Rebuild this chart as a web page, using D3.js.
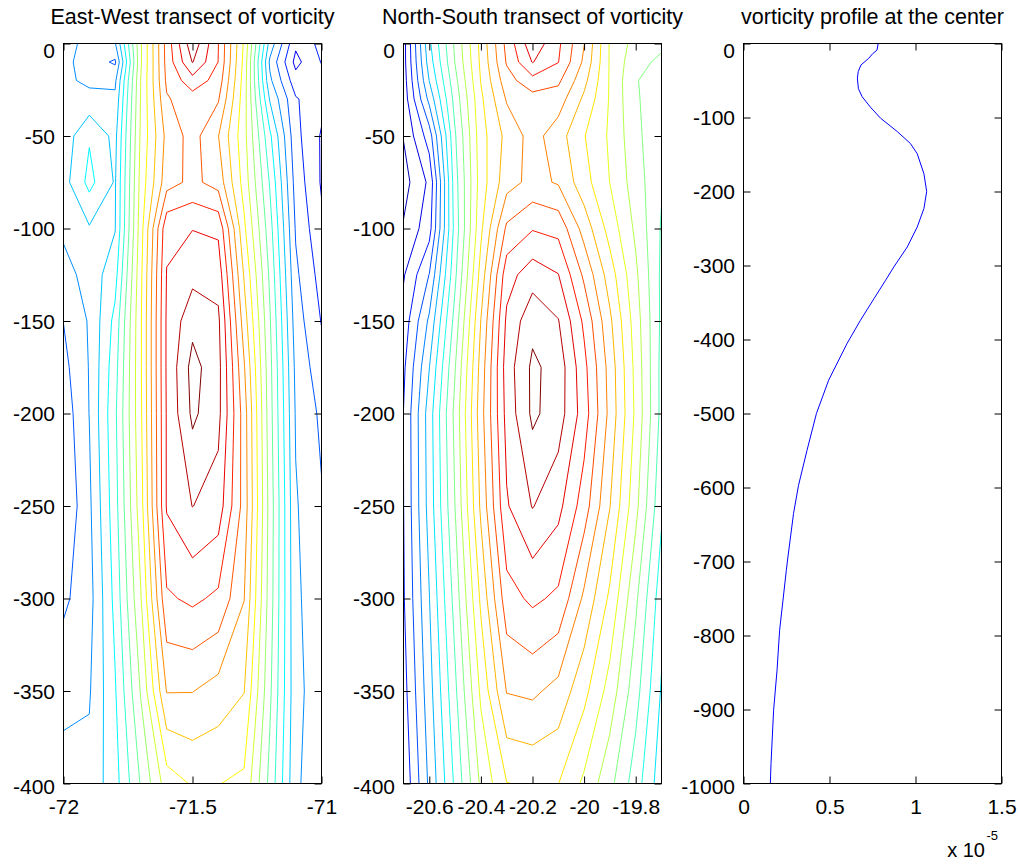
<!DOCTYPE html>
<html>
<head>
<meta charset="utf-8">
<script src="https://cdn.jsdelivr.net/npm/d3@7"></script>
<style>
body { margin: 0; background: #fff; }
text { font-family: "Liberation Sans", Arial, Helvetica, sans-serif; fill: #000; }
</style>
</head>
<body>
<div id="chart"></div>
<script>
// ---- East-West transect: vorticity (contour level units), rows = depth, columns = longitude
const ewLon = [-72, -71.9, -71.8, -71.7, -71.6, -71.5, -71.4, -71.3, -71.2, -71.1, -71];
const ewDepth = [0, -10, -20, -30, -50, -75, -100, -125, -150, -175, -200, -250, -300, -350, -400];
const ewVort = [
  [6.3, 5.75, 5.9, 11.9, 16.4, 19.7, 17.02, 12.85, 6.6, 3.2, 4.3],
  [6.3, 5.5, 4.85, 11.9, 16.35, 19.05, 16.98, 12.7, 5.8, 2.7, 4.05],
  [6.2, 5.8, 5.8, 12.05, 16.2, 17.6, 16.6, 12.55, 6.2, 3.4, 3.6],
  [6.2, 6.3, 6.2, 12.1, 15.9, 16.55, 16.1, 12.45, 6.9, 4.1, 3.3],
  [6.4, 7.9, 6.7, 12.2, 15.3, 16.4, 15.03, 12.35, 8.2, 4.3, 2.9],
  [6.6, 8.3, 6.9, 12.4, 15.6, 16.25, 15.6, 12.6, 8.9, 4.6, 2.9],
  [6.2, 6.9, 6.95, 12.6, 17.75, 17.97, 17.8, 13.2, 9.4, 4.9, 3.2],
  [5.6, 6.4, 7.6, 12.8, 18.05, 18.69, 18.6, 13.9, 9.8, 5.2, 3.6],
  [5.02, 6.1, 8.3, 12.9, 18.15, 19.7, 19.2, 14.5, 10.1, 5.5, 3.95],
  [4.7, 6.05, 8.6, 12.9, 18.15, 20.35, 19.35, 15.1, 10.3, 5.75, 4.4],
  [4.4, 6.02, 8.8, 12.85, 18.1, 20.2, 19.3, 15.5, 10.4, 5.9, 4.8],
  [4.1, 5.8, 8.6, 12.6, 18.1, 19.02, 18.55, 15.6, 10.6, 6.1, 5.1],
  [4.8, 5.6, 8.3, 11.95, 16.85, 17.2, 16.8, 15.03, 10.5, 6.2, 5.3],
  [5.7, 5.9, 7.9, 11.1, 15.05, 15.03, 14.6, 14.03, 10.2, 6.3, 5.4],
  [6.4, 6.3, 7.6, 10.1, 12.5, 13.1, 13.03, 12.8, 9.7, 6.2, 5.2]
];
const ewLevels = d3.range(1, 21);
const ewTicks = [-72, -71.5, -71];

// ---- North-South transect: rows = depth, columns = latitude
const nsLat = [-20.7, -20.6, -20.5, -20.4, -20.3, -20.2, -20.1, -20, -19.9, -19.8, -19.7];
const nsDepth = [0, -10, -20, -30, -50, -75, -100, -125, -150, -175, -200, -250, -300, -350, -400];
const nsVort = [
  [2.6, 7.8, 11.2, 14.3, 17.3, 19.7, 18.2, 16.03, 12.9, 11.6, 11.2],
  [2.6, 7.5, 11.05, 14.2, 17.1, 19.05, 18.03, 15.8, 12.9, 11.3, 10.8],
  [2.5, 7.03, 10.7, 14.05, 16.6, 17.65, 17.2, 15.3, 12.9, 11.05, 10.6],
  [2.4, 6.3, 10.4, 13.8, 16.1, 16.6, 16.5, 14.8, 12.9, 11.1, 10.5],
  [2.05, 4.5, 9.9, 13.6, 15.3, 16.4, 15.45, 14.05, 12.85, 11.3, 10.1],
  [1.6, 3.2, 9.6, 13.5, 15.6, 16.3, 15.9, 14.4, 12.98, 11.5, 10.1],
  [2.1, 3.6, 9.4, 13.8, 17.2, 17.93, 17.7, 15.6, 13.6, 11.8, 9.9],
  [2.9, 5.03, 9.8, 14.4, 18.6, 19.55, 19.03, 16.8, 14.5, 12.2, 9.8],
  [3.4, 6.2, 10.4, 15.03, 19.2, 20.7, 20.05, 17.8, 15.2, 12.5, 9.8],
  [3.8, 6.98, 10.95, 15.4, 19.5, 21.2, 20.6, 18.3, 15.6, 12.7, 9.7],
  [4.02, 7.5, 11.3, 15.6, 19.35, 21.2, 20.5, 18.5, 15.7, 12.8, 9.7],
  [3.98, 7.4, 11.02, 15.2, 18.9, 20.05, 19.3, 17.5, 15.03, 12.3, 9.2],
  [3.9, 6.97, 10.4, 14.2, 17.6, 18.2, 17.8, 15.8, 13.8, 11.2, 8.4],
  [3.6, 6.6, 9.8, 13.2, 16.05, 16.2, 15.67, 14.3, 12.6, 10.4, 7.9],
  [3.2, 6.2, 9.2, 12.2, 13.97, 14.15, 14.02, 12.8, 11.3, 9.5, 7.4]
];
const nsLevels = d3.range(1, 22);
const nsTicks = [-20.6, -20.4, -20.2, -20, -19.8];

// ---- vorticity profile at the center (x 1e-5)
const profDepth = [0, -9, -14, -20, -29, -38, -47, -61, -72, -86, -101, -119, -135, -149, -176, -200,
  -223, -248, -275, -302, -320, -345, -374, -405, -455, -500, -550, -597, -635, -698, -712, -793,
  -847, -901, -973, -1000];
const profVort = [0.783, 0.776, 0.75, 0.728, 0.683, 0.667, 0.662, 0.668, 0.69, 0.738, 0.797, 0.894,
  0.97, 1.01, 1.049, 1.065, 1.049, 1.01, 0.952, 0.874, 0.826, 0.758, 0.68, 0.603, 0.495, 0.424,
  0.369, 0.32, 0.291, 0.256, 0.249, 0.21, 0.195, 0.175, 0.16, 0.156];
const profXTicks = [0, 0.5, 1, 1.5];
const profYTicks = d3.range(0, -1001, -100);
const transectYTicks = d3.range(0, -401, -50);

const W = 258, H = 740, plotTop = 43.5;

const svg = d3.select("#chart").append("svg")
    .attr("width", 1018)
    .attr("height", 864);

// matlab jet colormap
function jet(t) {
    const c = v => Math.max(0, Math.min(1, v)) * 255;
    const r = c(Math.min(4 * t - 1.5, -4 * t + 4.5));
    const g = c(Math.min(4 * t - 0.5, -4 * t + 3.5));
    const b = c(Math.min(4 * t + 0.5, -4 * t + 2.5));
    return d3.rgb(r, g, b).toString();
}

function yLabelOffset(d, last) {
    if (d === 0) return 13.5;
    if (d === last) return 9.5;
    return 7;
}

function frame(g, x, y, xTicks, yTicks, xFmt) {
    const yLast = yTicks[yTicks.length - 1];

    const left = g.append("g")
        .call(d3.axisLeft(y).tickValues(yTicks).tickSize(-7).tickSizeOuter(0).tickPadding(8.5)
            .tickFormat(d => String(d)));
    left.select(".domain").remove();
    left.selectAll("text").attr("dy", null).attr("y", d => yLabelOffset(d, yLast));

    const right = g.append("g").attr("transform", "translate(" + W + ",0)")
        .call(d3.axisRight(y).tickValues(yTicks).tickSize(-7).tickSizeOuter(0).tickFormat(""));
    right.select(".domain").remove();

    const bottom = g.append("g").attr("transform", "translate(0," + H + ")")
        .call(d3.axisBottom(x).tickValues(xTicks).tickSize(-7).tickSizeOuter(0).tickFormat(xFmt));
    bottom.select(".domain").remove();
    bottom.selectAll("text").attr("dy", null).attr("y", 30.5);

    const topAx = g.append("g")
        .call(d3.axisTop(x).tickValues(xTicks).tickSize(-7).tickSizeOuter(0).tickFormat(""));
    topAx.select(".domain").remove();

    g.selectAll(".tick line").attr("stroke", "#000");
    g.selectAll(".tick text")
        .attr("font-size", 21)
        .attr("font-family", "Liberation Sans, Arial, sans-serif");

    g.append("rect")
        .attr("width", W)
        .attr("height", H)
        .attr("fill", "none")
        .attr("stroke", "#000")
        .attr("stroke-width", 1);
}

function contourPanel(left, id, title, cols, depths, grid, levels, xTicks) {
    const g = svg.append("g").attr("transform", "translate(" + left + "," + plotTop + ")");
    const x = d3.scaleLinear().domain([cols[0], cols[cols.length - 1]]).range([0, W]);
    const y = d3.scaleLinear().domain([-400, 0]).range([H, 0]);

    // grid index space -> pixels (value i sits at i + 0.5 in d3.contours output)
    const gx = d3.scaleLinear().domain(cols.map((d, i) => i + 0.5)).range(cols.map(x));
    const gy = d3.scaleLinear().domain(depths.map((d, i) => i + 0.5)).range(depths.map(y));

    const contours = d3.contours()
        .size([cols.length, depths.length])
        .thresholds(levels)(grid.flat());

    const path = d3.geoPath(d3.geoTransform({
        point(px, py) { this.stream.point(gx(px), gy(py)); }
    }));

    g.append("clipPath").attr("id", id)
        .append("rect").attr("width", W).attr("height", H);

    const lo = levels[0], hi = levels[levels.length - 1];
    g.append("g")
        .attr("clip-path", "url(#" + id + ")")
        .selectAll("path")
        .data(contours)
        .enter().append("path")
        .attr("d", path)
        .attr("fill", "none")
        .attr("stroke", d => jet((d.value - lo) / (hi - lo)))
        .attr("stroke-width", 1);

    frame(g, x, y, xTicks, transectYTicks, d => String(d));

    svg.append("text")
        .attr("x", left + W / 2)
        .attr("y", 24)
        .attr("text-anchor", "middle")
        .style("font-size", "21.5px")
        .text(title);
}

contourPanel(63.5, "clipEW", "East-West transect of vorticity", ewLon, ewDepth, ewVort, ewLevels, ewTicks);
contourPanel(403.5, "clipNS", "North-South transect of vorticity", nsLat, nsDepth, nsVort, nsLevels, nsTicks);

// ---- profile panel
const g3 = svg.append("g").attr("transform", "translate(743.5," + plotTop + ")");
const x3 = d3.scaleLinear().domain([0, 1.5]).range([0, W]);
const y3 = d3.scaleLinear().domain([-1000, 0]).range([H, 0]);

const line = d3.line()
    .x((d, i) => x3(profVort[i]))
    .y(d => y3(d));

g3.append("path")
    .datum(profDepth)
    .attr("d", line)
    .attr("fill", "none")
    .attr("stroke", "#0000ff")
    .attr("stroke-width", 1);

frame(g3, x3, y3, profXTicks, profYTicks, d => String(d));

svg.append("text")
    .attr("x", 743.5 + W / 2)
    .attr("y", 24)
    .attr("text-anchor", "middle")
    .style("font-size", "21.5px")
    .text("vorticity profile at the center");

// exponent label under the x axis
svg.append("text")
    .attr("x", 985)
    .attr("y", 857)
    .attr("text-anchor", "end")
    .style("font-size", "20px")
    .text("x 10");

svg.append("text")
    .attr("x", 986.5)
    .attr("y", 840)
    .style("font-size", "13px")
    .text("-5");
</script>
</body>
</html>
